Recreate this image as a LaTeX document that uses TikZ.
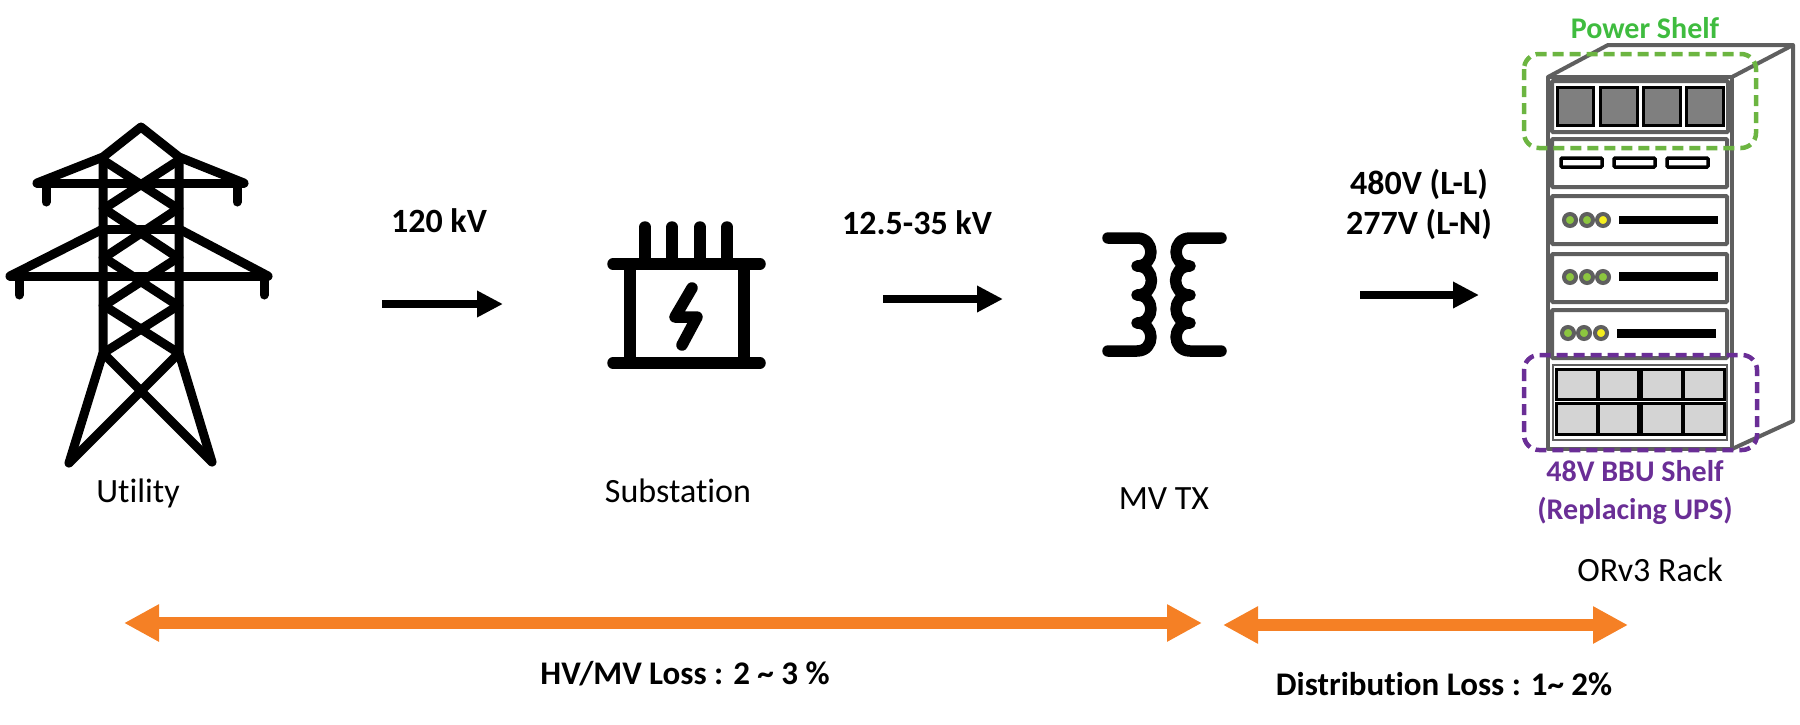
\documentclass[tikz,border=0pt]{standalone}
\usepackage{fontspec}
\setmainfont{Carlito}[Ligatures=NoCommon]
\usetikzlibrary{arrows.meta}
\definecolor{rackgray}{HTML}{5F5F5F}
\definecolor{lossorange}{HTML}{F58025}
\definecolor{shelfgreen}{HTML}{6CB541}
\definecolor{labelgreen}{HTML}{3FBC3F}
\definecolor{shelfpurple}{HTML}{6A2E96}
\definecolor{ledgreen}{HTML}{8CC63F}
\definecolor{ledyellow}{HTML}{F5EE1E}
\tikzset{
    icon/.style={draw=black, line width=9pt, line cap=round, line join=round},
    thick icon/.style={icon, line width=11.5pt},
    name label/.style={font=\fontsize{34}{40}\selectfont, inner sep=0pt},
    value label/.style={font=\fontsize{34}{40}\selectfont\bfseries, inner sep=0pt, align=center},
    loss label/.style={font=\fontsize{33}{40}\selectfont\bfseries, inner sep=0pt},
    shelf label/.style={font=\fontsize{30}{38}\selectfont\bfseries, inner sep=0pt, align=center},
    flow/.style={draw=black, line width=8pt, -{Triangle[length=26pt, width=25pt]}},
    loss/.style={draw=lossorange, line width=12pt, {Triangle[length=35pt, width=35pt]}-{Triangle[length=35pt, width=35pt]}},
    rack line/.style={draw=rackgray, line width=4pt, line join=round},
    shelf/.style={draw=rackgray, line width=4pt, fill=white, rounded corners=1pt},
    led/.style={draw=rackgray, line width=4pt, fill=#1},
    outline/.style={draw=#1, line width=4.5pt, rounded corners=15pt, dash pattern=on 11pt off 6pt}
}
\begin{document}
\begin{tikzpicture}[x=1pt, y=-1pt]
    \useasboundingbox (0, 0) rectangle (1800, 724);

    \draw[icon] (37, 183) -- (244, 183);
    \draw[icon] (10, 276) -- (268, 276);
    \draw[icon] (103, 229) -- (179, 229);
    \draw[icon] (37, 183) -- (103, 157) -- (141, 127) -- (179, 157) -- (244, 183);
    \draw[icon] (10, 276) -- (103, 229);
    \draw[icon] (268, 276) -- (179, 229);
    \draw[icon] (46, 183) -- (46, 202);
    \draw[icon] (237, 183) -- (237, 202);
    \draw[icon] (19, 276) -- (19, 295);
    \draw[icon] (264, 276) -- (264, 295);
    \draw[icon] (69, 463) -- (103, 353) -- (103, 157);
    \draw[icon] (212, 462) -- (179, 353) -- (179, 157);
    \foreach \ya/\yb in {160/208, 208/257, 257/305, 305/352} {
        \draw[icon] (103, \ya) -- (177, \yb);
        \draw[icon] (179, \ya) -- (105, \yb);
    }
    \draw[icon] (103, 353) -- (212, 462);
    \draw[icon] (179, 353) -- (69, 463);

    \foreach \x in {645, 672, 700, 727} {
        \draw[thick icon] (\x, 227) -- (\x, 264);
    }
    \draw[thick icon] (613, 264) -- (760, 264);
    \draw[thick icon] (613, 363) -- (760, 363);
    \draw[thick icon] (630, 264) -- (630, 363);
    \draw[thick icon] (744, 264) -- (744, 363);
    \draw[thick icon] (692, 288) -- (675, 317) -- (697, 317) -- (682, 345);

    \draw[thick icon] (1108, 238) -- (1137, 238)
        to[out=0, in=0, looseness=1.7] (1137, 266)
        to[out=0, in=0, looseness=1.7] (1137, 295)
        to[out=0, in=0, looseness=1.7] (1137, 323)
        to[out=0, in=0, looseness=1.7] (1137, 351) -- (1108, 351);
    \draw[thick icon] (1221, 238) -- (1190, 238)
        to[out=180, in=180, looseness=1.7] (1190, 266)
        to[out=180, in=180, looseness=1.7] (1190, 295)
        to[out=180, in=180, looseness=1.7] (1190, 323)
        to[out=180, in=180, looseness=1.7] (1190, 351) -- (1221, 351);

    \draw[rack line] (1548, 77) -- (1608, 45) -- (1793, 45) -- (1793, 421) -- (1732, 449);
    \draw[rack line] (1793, 45) -- (1732, 77);
    \draw[rack line] (1548, 449) rectangle (1732, 77);

    \draw[shelf] (1552, 81) rectangle (1728, 132);
    \foreach \xa/\xb in {1557/1593, 1600/1637, 1643/1680, 1686/1723} {
        \draw[line width=3pt, fill=rackgray!80] (\xa, 87) rectangle (\xb, 125);
    }

    \draw[shelf] (1552, 139) rectangle (1727, 187);
    \foreach \x in {1561, 1614, 1667} {
        \draw[line width=3.5pt, rounded corners=1pt, fill=white] (\x, 158) rectangle ++(41, 9);
    }

    \draw[shelf] (1552, 196) rectangle (1727, 244);
    \draw[led=ledgreen] (1570, 220) circle (6);
    \draw[led=ledgreen] (1587, 220) circle (6);
    \draw[led=ledyellow] (1603, 220) circle (6);
    \fill (1619, 216) rectangle (1718, 224);

    \draw[shelf] (1552, 254) rectangle (1727, 302);
    \draw[led=ledgreen] (1570, 277) circle (6);
    \draw[led=ledgreen] (1587, 277) circle (6);
    \draw[led=ledgreen] (1603, 277) circle (6);
    \fill (1619, 272) rectangle (1718, 281);

    \draw[shelf] (1552, 310) rectangle (1727, 358);
    \draw[led=ledgreen] (1568, 333) circle (6);
    \draw[led=ledgreen] (1584, 333) circle (6);
    \draw[led=ledyellow] (1601, 333) circle (6);
    \fill (1617, 329) rectangle (1716, 338);

    \draw[draw=rackgray, line width=2.5pt, fill=white] (1553, 365) rectangle (1727, 440);
    \foreach \xa/\xb in {1556/1597, 1598/1638, 1641/1682, 1683/1724} {
        \draw[line width=3pt, fill=black!17] (\xa, 369) rectangle (\xb, 399);
        \draw[line width=3pt, fill=black!17] (\xa, 403) rectangle (\xb, 434);
    }

    \draw[outline=shelfgreen] (1524, 54) rectangle (1756, 148);
    \draw[outline=shelfpurple] (1524, 355) rectangle (1757, 450);

    \node[name label] (util) at (138, 493) {Utility};
    \node[name label] (subst) at (678, 491) {Substation};
    \node[name label] (mvtx) at (1164, 499) {MV TX};
    \node[name label] (rack) at (1650, 570) {ORv3 Rack};
    \node[value label] (hv) at (439, 221) {120 kV};
    \node[value label] (mv) at (917, 223) {12.5-35 kV};
    \node[value label] (lv) at (1419, 204) {480V (L-L)\\277V (L-N)};
    \node[shelf label, text=labelgreen] (pshelf) at (1645, 28) {Power Shelf};
    \node[shelf label, text=shelfpurple] (bbu) at (1635, 493) {48V BBU Shelf\\(Replacing UPS)};
    \node[loss label] (hvloss) at (685, 674) {HV/MV Loss : 2 \char`~{} 3 \%};
    \node[loss label] (distloss) at (1444, 684) {Distribution Loss : 1\char`~{} 2\%};

    \coordinate (flowa) at (382, 304);
    \coordinate (flowb) at (503, 304);
    \coordinate (flowc) at (883, 299);
    \coordinate (flowd) at (1003, 299);
    \coordinate (flowe) at (1360, 295);
    \coordinate (flowf) at (1479, 295);
    \draw[flow] (flowa) -- (flowb);
    \draw[flow] (flowc) -- (flowd);
    \draw[flow] (flowe) -- (flowf);

    \coordinate (lossa) at (124, 623);
    \coordinate (lossb) at (1202, 623);
    \coordinate (lossc) at (1223, 625);
    \coordinate (lossd) at (1628, 625);
    \draw[loss] (lossa) -- (lossb);
    \draw[loss] (lossc) -- (lossd);
\end{tikzpicture}
\end{document}
